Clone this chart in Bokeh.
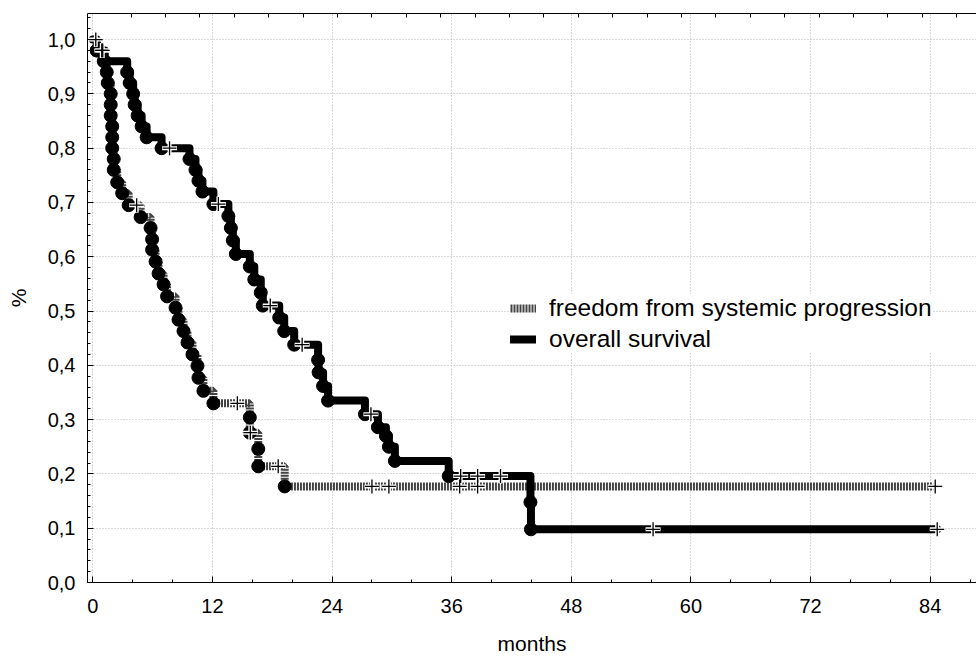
import numpy as np
from bokeh.plotting import figure
from bokeh.models import (FixedTicker, LinearAxis, Range1d, Legend, LegendItem,
                          CustomJSTickFormatter)
from bokeh.embed import file_html
from bokeh.resources import INLINE

# ---------------- data ----------------
# freedom from systemic progression: event times (months) and survival after event
ffsp_t = [0.4, 1.1, 1.4, 1.5, 1.8, 1.8, 1.8, 1.95, 1.95, 1.95, 2.1, 2.1, 2.45, 2.95,
          3.6, 4.8, 5.8, 5.95, 5.95, 6.3, 6.6, 7.1, 7.45, 8.3, 8.6, 9.1, 9.5, 10.0,
          10.5, 10.6, 11.1, 12.1, 15.75, 15.75, 16.6, 16.6, 19.25]
ffsp_s = [0.98, 0.96, 0.94, 0.92, 0.90, 0.88, 0.86, 0.84, 0.82, 0.80, 0.78, 0.76, 0.737,
          0.717, 0.695, 0.673, 0.653, 0.632, 0.613, 0.591, 0.569, 0.549, 0.527, 0.506,
          0.484, 0.463, 0.442, 0.42, 0.399, 0.377, 0.353, 0.330, 0.304, 0.276, 0.246,
          0.214, 0.177]
ffsp_end = 84.5
ffsp_cens = [0.3, 1.0, 4.4, 14.5, 15.8, 18.6, 28.0, 29.7, 36.8, 38.6, 84.5]

# overall survival
os_t = [0.4, 1.2, 3.45, 3.7, 4.05, 4.2, 4.5, 4.9, 5.4, 6.9, 9.7, 10.3, 10.6, 11.0, 12.1,
        13.6, 13.85, 14.05, 14.35, 15.75, 16.2, 16.85, 17.05, 18.7, 19.2, 20.2, 22.6,
        22.65, 23.1, 23.6, 27.3, 28.6, 29.4, 29.7, 30.3, 35.7, 43.9, 43.95]
os_s = [0.98, 0.96, 0.94, 0.92, 0.90, 0.88, 0.86, 0.84, 0.82, 0.80, 0.78, 0.76, 0.74,
        0.72, 0.697, 0.675, 0.653, 0.63, 0.605, 0.582, 0.558, 0.534, 0.51, 0.488, 0.463,
        0.438, 0.41, 0.387, 0.362, 0.335, 0.31, 0.286, 0.27, 0.25, 0.224, 0.196, 0.148,
        0.098]
os_end = 84.7
os_cens = [0.9, 7.7, 12.6, 17.8, 21.0, 27.9, 36.9, 38.6, 40.9, 56.2, 84.7]

x_major = [0, 12, 24, 36, 48, 60, 72, 84]
y_major = [0.0, 0.1, 0.2, 0.3, 0.4, 0.5, 0.6, 0.7, 0.8, 0.9, 1.0]
legend_labels = ["freedom from systemic progression", "overall survival"]


def steps(t, s, t_end):
    xs, ys = [0.0], [1.0]
    for ti, si in zip(t, s):
        xs += [ti, ti]
        ys += [ys[-1], si]
    xs.append(t_end)
    ys.append(ys[-1])
    return xs, ys


def surv_at(t, s, times):
    out = []
    for tc in times:
        v = 1.0
        for ti, si in zip(t, s):
            if ti <= tc:
                v = si
        out.append(v)
    return out


FONT = "Liberation Sans"

p = figure(width=976, height=657, x_range=Range1d(-0.53, 88.64), y_range=Range1d(0, 1.048),
           output_backend="svg", toolbar_location=None,
           min_border_left=87, min_border_right=0, min_border_top=13, min_border_bottom=73,
           x_axis_label="months", y_axis_label="%")
p.outline_line_color = None
p.background_fill_color = "white"

# grid
p.xgrid.ticker = FixedTicker(ticks=x_major)
p.ygrid.ticker = FixedTicker(ticks=y_major[1:])
for g in (p.xgrid, p.ygrid):
    g.grid_line_color = "#b5b5b5"
    g.grid_line_dash = "1 2"
    g.grid_line_width = 1

# axes
p.xaxis.ticker = FixedTicker(ticks=x_major, minor_ticks=list(range(0, 89, 4)))
p.yaxis.ticker = FixedTicker(ticks=y_major, minor_ticks=[round(0.02 * i, 2) for i in range(53)])
p.yaxis.formatter = CustomJSTickFormatter(code="return tick.toFixed(1).replace('.', ',');")
for ax in (p.xaxis[0], p.yaxis[0]):
    ax.axis_line_color = "black"
    ax.axis_line_width = 1
    ax.major_tick_in = 6
    ax.major_tick_out = 0
    ax.minor_tick_in = 3
    ax.minor_tick_out = 0
    ax.major_tick_line_color = "black"
    ax.minor_tick_line_color = "black"
    ax.major_label_text_font = FONT
    ax.major_label_text_font_size = "20px"
    ax.major_label_text_color = "black"
    ax.axis_label_text_font = FONT
    ax.axis_label_text_font_size = "21px"
    ax.axis_label_text_font_style = "normal"
    ax.axis_label_text_color = "black"
p.xaxis.major_label_standoff = 16
p.xaxis.axis_label_standoff = 16
p.yaxis.major_label_standoff = 12
p.yaxis.axis_label_standoff = 15

top_ticks = list(np.arange(3.85, 88.6, 3.45))
top = LinearAxis(ticker=FixedTicker(ticks=top_ticks, minor_ticks=[]),
                 major_tick_in=4, major_tick_out=0, minor_tick_in=0, minor_tick_out=0,
                 major_label_text_font_size="0px", major_label_standoff=0,
                 axis_line_color="black", major_tick_line_color="black")
p.add_layout(top, "above")

# curves
fx, fy = steps(ffsp_t, ffsp_s, ffsp_end)
ox, oy = steps(os_t, os_s, os_end)

r_ffsp = p.line(fx, fy, line_width=8, line_color="#444444", line_dash="2 1")
r_os = p.line(ox, oy, line_width=8, line_color="black", line_join="round", line_cap="round")

p.scatter(ffsp_t, ffsp_s, marker="circle", size=13, color="black")
p.scatter(os_t, os_s, marker="circle", size=13, color="black")

cx = ffsp_cens + os_cens
cy = surv_at(ffsp_t, ffsp_s, ffsp_cens) + surv_at(os_t, os_s, os_cens)
p.scatter(cx, cy, marker="cross", size=15, line_color="white", line_width=4)
p.scatter(cx, cy, marker="cross", size=14, line_color="black", line_width=1.3)

legend = Legend(items=[LegendItem(label=legend_labels[0], renderers=[r_ffsp]),
                       LegendItem(label=legend_labels[1], renderers=[r_os])],
                location=(423, 229), border_line_color=None,
                background_fill_color="white", background_fill_alpha=1.0,
                label_text_font=FONT, label_text_font_size="24.5px", label_text_color="black",
                glyph_width=26, glyph_height=26, label_height=26, spacing=3, padding=10,
                label_standoff=13, margin=0)
p.add_layout(legend)

open("out.html", "w").write(file_html(p, INLINE))
